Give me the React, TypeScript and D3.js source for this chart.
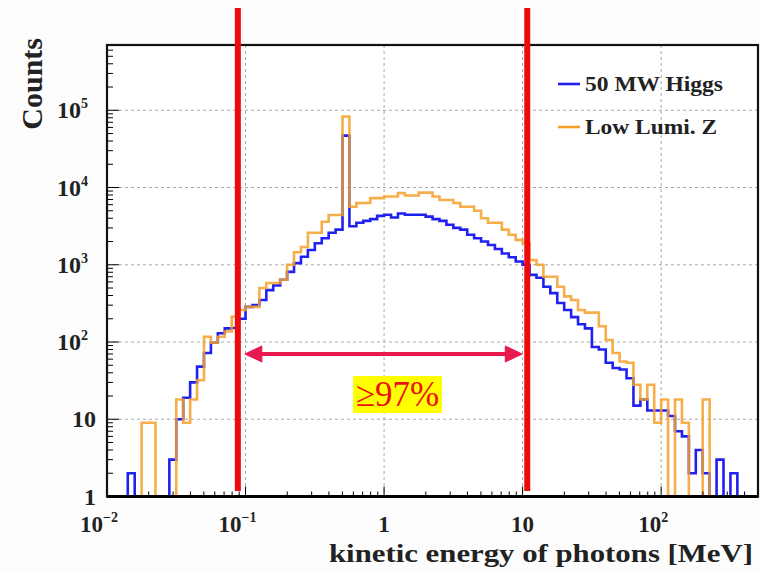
import React from 'react';
import * as d3 from 'd3';

// 94 log-uniform bins, 20 per decade, starting at 0.01 MeV
const BIN_START = 0.01;
const BINS_PER_DECADE = 20;

const higgs = [
  0, 0, 0, 2, 0, 1, 1, 0, 0, 3,
  10, 19, 30, 48, 72, 98, 130, 150, 152, 200,
  285, 300, 350, 470, 540, 640, 810, 1050, 1270, 1550,
  1900, 2200, 2600, 2850, 47000, 3150, 3500, 3700, 3900, 4300,
  4450, 4100, 4600, 4450, 4450, 4450, 4200, 3900, 3700, 3300,
  3000, 2850, 2450, 2200, 2000, 1800, 1600, 1400, 1250, 1100,
  1000, 740, 680, 520, 430, 320, 260, 210, 170, 150,
  86, 80, 54, 46, 44, 34, 15, 18, 13, 13,
  13, 11, 7, 6, 2, 4, 2, 1, 3, 1,
  2, 0, 0, 0,
];

const lowLumiZ = [
  0, 0, 0, 0, 0, 9, 9, 0, 0, 0,
  18, 9, 18, 32, 117, 98, 117, 137, 212, 260,
  285, 285, 500, 580, 580, 640, 1000, 1450, 1700, 2600,
  2600, 3600, 4400, 4400, 83000, 5650, 6300, 6300, 7300, 7300,
  7650, 7650, 8500, 7900, 7900, 8600, 8600, 7650, 6900, 6900,
  6300, 5650, 5650, 5000, 4000, 3500, 3500, 2850, 2450, 2100,
  1900, 1150, 1000, 700, 700, 520, 390, 350, 260, 240,
  240, 160, 106, 72, 56, 54, 28, 18, 28, 9,
  18, 0, 18, 9, 0, 0, 18, 0, 0, 0,
  0, 0, 0, 0,
];

const xTicks = [0.01, 0.1, 1, 10, 100];
const xTickLabels = [['10', '\u22122'], ['10', '\u22121'], ['1', ''], ['10', ''], ['10', '2']];
const yTicks = [1, 10, 100, 1000, 10000, 100000];
const yTickLabels = [['1', ''], ['10', ''], ['10', '2'], ['10', '3'], ['10', '4'], ['10', '5']];

// acceptance window (red lines) in MeV
const cuts = [0.088, 10.8];
const seriesNames = ['50 MW Higgs', 'Low Lumi. Z'];

const W = 761;
const H = 573;
const BLUE = '#2020f0';
const ORANGE = '#f5a02c';
const FONT = '"Liberation Serif", "Times New Roman", serif';

const x = d3.scaleLog().domain([0.01, 500]).range([107, 758]);
const y = d3.scaleLog().domain([1, 7e5]).range([496.5, 45]);

const edges = d3.range(higgs.length + 1).map(i => BIN_START * Math.pow(10, i / BINS_PER_DECADE));

const stepLine = d3
  .line<[number, number]>()
  .x(d => x(d[0]))
  .y(d => y(Math.max(1, d[1])))
  .curve(d3.curveStepAfter);

const histPath = (vals: number[]) => {
  const pts: [number, number][] = vals.map((v, i) => [edges[i], v]);
  pts.push([edges[vals.length], vals[vals.length - 1]]);
  return stepLine(pts) || '';
};

const App = () => {
  const [x0, x1] = x.range();
  const [yb, yt] = y.range();

  const yMinor: number[] = [];
  for (let k = 0; k < 6; k++) {
    for (let m = 2; m <= 9; m++) {
      const v = m * Math.pow(10, k);
      if (v <= 7e5) yMinor.push(v);
    }
  }
  const xMinor: number[] = [];
  for (let k = -2; k < 3; k++) {
    for (let m = 2; m <= 9; m++) {
      const v = m * Math.pow(10, k);
      if (v <= 500) xMinor.push(v);
    }
  }

  const arrowY = 354;
  const ax0 = x(cuts[0]) + 7;
  const ax1 = x(cuts[1]) - 5;

  return (
    <svg width={W} height={H} style={{ position: 'absolute', left: 0, top: 0, background: '#fdfdfd' }}>
      <rect x={x0} y={yt} width={x1 - x0} height={yb - yt} fill="#fff" />

      {/* grid */}
      <g stroke="#a8a8a8" strokeDasharray="3,3" strokeWidth={1}>
        {xTicks.slice(1).map(t => (
          <line key={'gx' + t} x1={x(t)} x2={x(t)} y1={yt} y2={yb} />
        ))}
        {yTicks.slice(1).map(t => (
          <line key={'gy' + t} x1={x0} x2={x1} y1={y(t)} y2={y(t)} />
        ))}
      </g>

      {/* histograms */}
      <path d={histPath(higgs)} fill="none" stroke={BLUE} strokeWidth={2.6} strokeLinejoin="miter" />
      <path d={histPath(lowLumiZ)} fill="none" stroke={ORANGE} strokeWidth={2.6} strokeOpacity={0.85} />

      {/* ticks */}
      <g stroke="#000" strokeWidth={1}>
        {yTicks.map(t => (
          <line key={'ty' + t} x1={x0} x2={x0 + 12} y1={y(t)} y2={y(t)} />
        ))}
        {yMinor.map(t => (
          <line key={'tym' + t} x1={x0} x2={x0 + 6} y1={y(t)} y2={y(t)} />
        ))}
        {xTicks.map(t => (
          <line key={'tx' + t} x1={x(t)} x2={x(t)} y1={yb} y2={yb - 10} />
        ))}
        {xMinor.map(t => (
          <line key={'txm' + t} x1={x(t)} x2={x(t)} y1={yb} y2={yb - 5} />
        ))}
      </g>

      {/* frame */}
      <rect x={x0} y={yt} width={x1 - x0} height={yb - yt} fill="none" stroke="#111" strokeWidth={2.2} />
      <line x1={x0} x2={x1} y1={yb} y2={yb} stroke="#000" strokeWidth={3} />

      {/* tick labels */}
      <g fontFamily={FONT} fontWeight="bold" fill="#222">
        {yTicks.map((t, i) => (
          <text key={'ly' + t} x={yTickLabels[i][1] ? 88 : 96} y={y(t) + 8} textAnchor="end" fontSize={24}>
            {yTickLabels[i][0]}
            {yTickLabels[i][1] && (
              <tspan fontSize={14} dy={-10}>{yTickLabels[i][1]}</tspan>
            )}
          </text>
        ))}
        {xTicks.map((t, i) => (
          <text key={'lx' + t} x={x(t) - (xTickLabels[i][1] ? 8 : 0)} y={532} textAnchor="middle" fontSize={23}>
            {xTickLabels[i][0]}
            {xTickLabels[i][1] && (
              <tspan fontSize={14} dy={-10}>{xTickLabels[i][1]}</tspan>
            )}
          </text>
        ))}
      </g>

      {/* axis titles */}
      <text
        transform={`translate(42, 38) rotate(-90)`}
        textAnchor="end"
        fontFamily={FONT}
        fontWeight="bold"
        fontSize={30}
        fill="#222"
      >
        Counts
      </text>
      <text
        x={753}
        y={562}
        textAnchor="end"
        fontFamily={FONT}
        fontWeight="bold"
        fontSize={26}
        textLength={424}
        lengthAdjust="spacingAndGlyphs"
        fill="#222"
      >
        kinetic energy of photons [MeV]
      </text>

      {/* legend */}
      <g fontFamily={FONT} fontWeight="bold" fontSize={21} fill="#222">
        <line x1={558} x2={580} y1={84} y2={84} stroke={BLUE} strokeWidth={2.6} />
        <text x={585} y={91} textLength={138} lengthAdjust="spacingAndGlyphs">{seriesNames[0]}</text>
        <line x1={558} x2={580} y1={127} y2={127} stroke={ORANGE} strokeWidth={2.6} />
        <text x={585} y={134} textLength={132} lengthAdjust="spacingAndGlyphs">{seriesNames[1]}</text>
      </g>

      {/* acceptance window */}
      {cuts.map(c => (
        <line key={'cut' + c} x1={x(c)} x2={x(c)} y1={8} y2={491} stroke="#ee0a0a" strokeWidth={6} />
      ))}
      <g stroke="#e8194f" fill="#e8194f">
        <line x1={ax0 + 10} x2={ax1 - 10} y1={arrowY} y2={arrowY} strokeWidth={4} />
        <path d={`M${ax0},${arrowY} l17,-8 v16 z`} strokeWidth={1} />
        <path d={`M${ax1},${arrowY} l-17,-8 v16 z`} strokeWidth={1} />
      </g>
      <rect x={353} y={376} width={89} height={37} fill="#ffff00" />
      <text x={397.5} y={406} textAnchor="middle" fontFamily={FONT} fontSize={35} fill="#ee1010">
        ≥97%
      </text>
    </svg>
  );
};

export default App;
